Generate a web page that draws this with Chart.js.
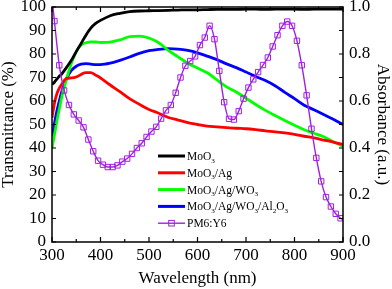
<!DOCTYPE html>
<html><head><meta charset="utf-8">
<script src="https://cdn.jsdelivr.net/npm/chart.js@4"></script>
<style>html,body{margin:0;padding:0;background:#fff}#wrap{width:392px;height:289px;position:relative}</style>
</head><body>
<div id="wrap"><canvas id="c"></canvas></div>
<script>
// ---- data ----
const wavelengths = [300,305,310,315,320,330,340,350,360,370,380,390,400,420,440,460,480,500,520,540,560,580,600,620,640,660,680,700,720,740,760,780,800,820,840,860,880,900];
const moo3 = [67,68,69.3,70.5,71.5,74.3,77.3,81,84.5,88,91,93,94.3,96.3,97.3,98,98.3,98.4,98.5,98.6,98.7,98.8,98.8,98.9,99,99,99,99.1,99.1,99,99.1,99.1,99.1,99,99.1,99.1,99.1,99.1];
const moo3Ag = [52.9,59,63,65.5,67.1,69.6,69.8,70.2,71.3,72.1,72.1,71,69.8,66.8,64,61,58.6,56.4,54.8,53,51.9,50.8,50,49.3,49,48.7,48.4,48.2,47.8,47.3,46.9,46.4,45.8,45,44.3,43.4,42.5,41.5];
const moo3AgWo3 = [40,45.5,51.4,56.5,61.5,69.5,76,81,83.8,84.8,85.2,85.1,84.9,85.1,86,87.4,87.6,86.8,84.8,81.5,78.8,76.1,74,72,69,66,63.8,61.2,58.5,56,53.8,51.7,49.7,47.8,46.3,44.8,42.7,40.7];
const moo3AgWo3Al2o3 = [45,50.5,55.7,60,64,69.5,73,74.8,75.7,75.9,75.7,75.5,75.5,76.1,77.3,78.7,80.3,81.4,82,82.3,82.1,81.5,80.5,79.1,77.6,75.8,74.2,72.3,70.4,68.7,66.5,63.7,61,58.2,56.3,54.3,52.2,50];
const pm6Wavelengths = [300,305,315,325,335,345,355,365,375,385,395,405,415,425,435,445,455,465,475,485,495,505,515,525,535,545,555,565,575,585,595,605,615,625,635,645,655,665,675,685,695,705,715,725,735,745,755,765,775,785,795,805,815,825,835,845,855,865,875,885,895,900];
const pm6y6 = [1.04,0.94,0.752,0.645,0.583,0.543,0.517,0.488,0.436,0.386,0.346,0.329,0.319,0.319,0.326,0.342,0.355,0.375,0.40,0.42,0.447,0.47,0.49,0.525,0.56,0.583,0.635,0.70,0.75,0.77,0.79,0.838,0.87,0.92,0.863,0.728,0.595,0.524,0.521,0.557,0.61,0.657,0.692,0.723,0.753,0.785,0.832,0.88,0.92,0.938,0.92,0.856,0.752,0.624,0.482,0.358,0.258,0.191,0.151,0.12,0.101,0.095];
const seriesLabels = ['MoO_3','MoO_3/Ag','MoO_3/Ag/WO_3','MoO_3/Ag/WO_3/Al_2O_3','PM6:Y6'];
const xTicks = [300,400,500,600,700,800,900];
const leftTicks = [0,10,20,30,40,50,60,70,80,90,100];
const rightTicks = [0.0,0.2,0.4,0.6,0.8,1.0];

const colors = ['#000000','#FF0000','#00FF00','#0000FF','#A020E0'];
const SERIF = '"Liberation Serif","Times New Roman",serif';

function pairs(xs, ys){ return xs.map((x,i)=>({x:x,y:ys[i]})); }
const transSeries = [moo3, moo3Ag, moo3AgWo3, moo3AgWo3Al2o3];
const datasets = transSeries.map((s,i)=>({
  label: seriesLabels[i], data: pairs(wavelengths, s), yAxisID:'y',
  borderColor: colors[i], borderWidth: 2.8, pointRadius: 0, tension: 0.3,
  cubicInterpolationMode: 'monotone', fill:false
}));
datasets.push({
  label: seriesLabels[4], data: pairs(pm6Wavelengths, pm6y6), yAxisID:'y1',
  borderColor: colors[4], borderWidth: 1.4, cubicInterpolationMode:'monotone',
  pointStyle:'rect', pointRadius: pm6Wavelengths.map((w,i)=> (i===0||i===pm6Wavelengths.length-1)?0:3.8),
  pointBorderColor: colors[4], pointBackgroundColor:'rgba(0,0,0,0)', pointBorderWidth:1, fill:false
});
datasets.unshift(datasets.pop()); // PM6:Y6 first so it is drawn on top
const drawOrder = datasets;

function zeroPad(s){ s.paddingTop=0; s.paddingBottom=0; s.paddingLeft=0; s.paddingRight=0; }

function drawRich(ctx, text, x, y, size){
  let cx = x;
  const parts = text.split(/(_\d)/);
  for (const p of parts){
    if (!p) continue;
    if (p[0]==='_'){
      ctx.font = (size*0.62)+'px '+SERIF;
      ctx.fillText(p.slice(1), cx, y+2.6);
      cx += ctx.measureText(p.slice(1)).width;
    } else {
      ctx.font = size+'px '+SERIF;
      ctx.fillText(p, cx, y);
      cx += ctx.measureText(p).width;
    }
  }
}

const framePlugin = {
  id:'frame',
  afterDatasetsDraw(chart){
    const {ctx, chartArea:a, scales} = chart;
    ctx.save();
    ctx.strokeStyle='#000'; ctx.lineWidth=1.5;
    ctx.strokeRect(a.left, a.top, a.right-a.left, a.bottom-a.top);
    ctx.lineWidth=1.2;
    ctx.beginPath();
    for (let v=300; v<=900; v+=50){
      const px = scales.x.getPixelForValue(v);
      const L = (v%100===0)?5:3;
      ctx.moveTo(px, a.bottom); ctx.lineTo(px, a.bottom-L);
      ctx.moveTo(px, a.top); ctx.lineTo(px, a.top+L);
    }
    for (const v of leftTicks){
      const py = scales.y.getPixelForValue(v);
      ctx.moveTo(a.left, py); ctx.lineTo(a.left+4, py);
    }
    for (let k=0; k<=10; k++){
      const py = scales.y1.getPixelForValue(k/10);
      ctx.moveTo(a.right, py); ctx.lineTo(a.right-4, py);
    }
    ctx.stroke();
    ctx.restore();
  },
  afterDraw(chart){
    const ctx = chart.ctx;
    ctx.save();
    const x0=158, x1=185, tx=187, y0=156, dy=16.8;
    const order=[1,2,3,4,0];
    seriesLabels.forEach((lab,i)=>{
      const ds = chart.data.datasets[order[i]];
      const y = y0 + i*dy;
      ctx.strokeStyle = ds.borderColor;
      ctx.lineWidth = (i===4)?1.4:3;
      ctx.beginPath(); ctx.moveTo(x0,y); ctx.lineTo(x1,y); ctx.stroke();
      if (i===4){
        ctx.lineWidth=1;
        ctx.strokeRect((x0+x1)/2-2.8, y-2.8, 5.6, 5.6);
      }
      ctx.fillStyle='#000'; ctx.textBaseline='alphabetic'; ctx.textAlign='left';
      drawRich(ctx, lab, tx, y+4, 11.5);
    });
    ctx.restore();
  }
};

const tickFont = {family: SERIF, size: 17};
new Chart(document.getElementById('c'), {
  type:'line',
  data:{datasets: drawOrder},
  options:{
    responsive:true, maintainAspectRatio:false, animation:false,
    layout:{padding:{top:7,left:0,right:0,bottom:0}},
    plugins:{legend:{display:false}, tooltip:{enabled:false}},
    scales:{
      x:{type:'linear', position:'bottom', min:300, max:900,
        afterBuildTicks(s){ s.ticks = xTicks.map(v=>({value:v})); },
        ticks:{font:tickFont, color:'#000', padding:3, maxRotation:0, autoSkip:false},
        grid:{display:false, drawTicks:false}, border:{display:false},
        title:{display:true, text:'Wavelength (nm)', font:{family:SERIF,size:17,lineHeight:1}, color:'#000', padding:{top:0,bottom:2}},
        afterFit(s){ s.height=47; zeroPad(s); }
      },
      y:{type:'linear', position:'left', min:0, max:100,
        afterBuildTicks(s){ s.ticks = leftTicks.map(v=>({value:v})); },
        ticks:{font:tickFont, color:'#000', padding:6, autoSkip:false},
        grid:{display:false, drawTicks:false}, border:{display:false},
        title:{display:true, text:'Transmittance (%)', font:{family:SERIF,size:17,lineHeight:1}, color:'#000', padding:{top:0.5,bottom:0}},
        afterFit(s){ s.width=52; zeroPad(s); }
      },
      y1:{type:'linear', position:'right', min:0, max:1,
        afterBuildTicks(s){ s.ticks = rightTicks.map(v=>({value:v})); },
        ticks:{font:tickFont, color:'#000', padding:6, autoSkip:false, callback:v=>Number(v).toFixed(1)},
        grid:{display:false, drawTicks:false}, border:{display:false},
        title:{display:true, text:'Absorbance (a.u.)', font:{family:SERIF,size:17,lineHeight:1}, color:'#000', padding:{top:1.5,bottom:0}},
        afterFit(s){ s.width=49; zeroPad(s); }
      }
    }
  },
  plugins:[framePlugin]
});
</script>
</body></html>
